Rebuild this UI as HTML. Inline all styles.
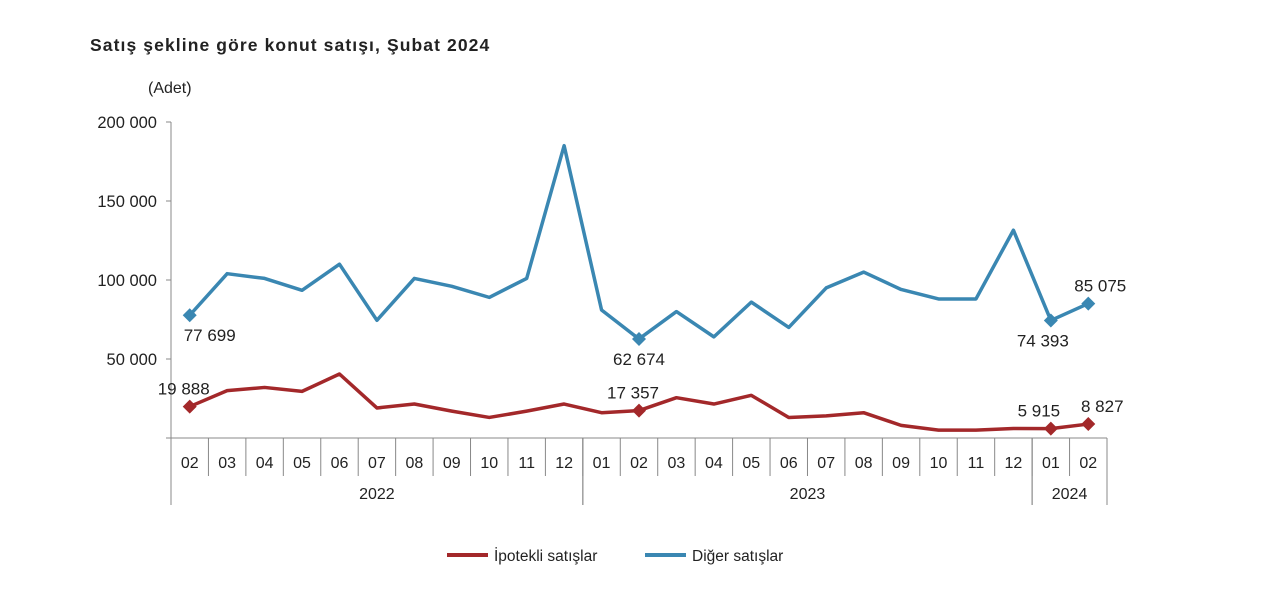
<!DOCTYPE html>
<html><head><meta charset="utf-8">
<style>
body{margin:0;background:#fff;width:1280px;height:601px;overflow:hidden;font-family:"Liberation Sans",sans-serif;}
svg text{font-family:"Liberation Sans",sans-serif;fill:#222;}
</style></head>
<body>
<svg id="chart" width="1280" height="601" xmlns="http://www.w3.org/2000/svg">
<text x="90" y="51" font-size="17.5" font-weight="bold" letter-spacing="1.1">Satış şekline göre konut satışı, Şubat 2024</text>
<text x="148" y="93" font-size="16">(Adet)</text>
<g id="axes"></g><g id="series"></g>
<g>
<line x1="447" y1="555" x2="488" y2="555" stroke="#a3282a" stroke-width="4"/>
<text x="494" y="561" font-size="15.5">İpotekli satışlar</text>
<line x1="645" y1="555" x2="686" y2="555" stroke="#3a87b2" stroke-width="4"/>
<text x="692" y="561" font-size="15.5">Diğer satışlar</text>
</g>
</svg>
<script>
const months=["02","03","04","05","06","07","08","09","10","11","12","01","02","03","04","05","06","07","08","09","10","11","12","01","02"];
const years=[{label:"2022",from:0,to:10},{label:"2023",from:11,to:22},{label:"2024",from:23,to:24}];
const diger=[77699,104000,101000,93500,110000,74500,101000,96000,89000,101000,185000,81000,62674,80000,64000,86000,70000,95000,105000,94000,88000,88000,131500,74393,85075];
const ipotekli=[19888,30000,32000,29500,40500,19000,21500,17000,13000,17000,21500,16000,17357,25500,21500,27000,13000,14000,16000,8000,5000,5000,6000,5915,8827];
const yTicks=[0,50000,100000,150000,200000];
const digerLabels={0:"77 699",12:"62 674",23:"74 393",24:"85 075"};
const ipotekliLabels={0:"19 888",12:"17 357",23:"5 915",24:"8 827"};
const NS="http://www.w3.org/2000/svg";
const x0=171,x1=1107,y0=438,y1=122;
const step=(x1-x0)/months.length;
const X=i=>x0+step*(i+0.5);
const Y=v=>y0-(v/200000)*(y0-y1);
function mk(t,a,p){const e=document.createElementNS(NS,t);for(const k in a)e.setAttribute(k,a[k]);p.appendChild(e);return e;}
const ax=document.getElementById('axes');
const fmt=v=>v===0?"":String(v).replace(/\B(?=(\d{3})+(?!\d))/g," ");
yTicks.forEach(v=>{
 const t=mk('text',{x:157,y:Y(v)+6,'font-size':16.5,'text-anchor':'end'},ax);t.textContent=fmt(v);
 
 
 mk('line',{x1:x0-5,y1:Y(v),x2:x0,y2:Y(v),stroke:'#888'},ax);
});
mk('line',{x1:x0,y1:y1,x2:x0,y2:y0,stroke:'#888'},ax);
mk('line',{x1:x0,y1:y0,x2:x1,y2:y0,stroke:'#888'},ax);
months.forEach((m,i)=>{
 const t=mk('text',{x:X(i),y:468,'font-size':16,'text-anchor':'middle'},ax);t.textContent=m;
 
 
 mk('line',{x1:x0+step*(i+1),y1:y0,x2:x0+step*(i+1),y2:476,stroke:'#888'},ax);
});
years.forEach(yr=>{
 const a=x0+step*yr.from,b=x0+step*(yr.to+1);
 mk('line',{x1:a,y1:y0,x2:a,y2:505,stroke:'#888'},ax);
 mk('line',{x1:b,y1:y0,x2:b,y2:505,stroke:'#888'},ax);
 const t=mk('text',{x:(a+b)/2,y:499,'font-size':16,'text-anchor':'middle'},ax);t.textContent=yr.label;
 
 
});
const sg=document.getElementById('series');
function draw(vals,col,labels,name,below,offs){
 const p=mk('polyline',{points:vals.map((v,i)=>X(i)+','+Y(v)).join(' '),fill:'none',stroke:col,'stroke-width':3.5,'stroke-linejoin':'round'},sg);
 
 
 for(const k in labels){
  const i=+k,cx=X(i),cy=Y(vals[i]);
  const d=mk('polygon',{points:`${cx},${cy-7} ${cx+7},${cy} ${cx},${cy+7} ${cx-7},${cy}`,fill:col},sg);
  
  
  const up=!below(i);
  const t=mk('text',{x:cx+(offs[i]||0),y:up?cy-12:cy+26,'font-size':17,'text-anchor':'middle'},sg);
  t.textContent=labels[k];
  
  
 }
}
draw(diger,'#3a87b2',digerLabels,'diger',i=>i!==24,{0:20,23:-8,24:12});
draw(ipotekli,'#a3282a',ipotekliLabels,'ipotekli',()=>false,{0:-6,12:-6,23:-12,24:14});
</script>
</body></html>
